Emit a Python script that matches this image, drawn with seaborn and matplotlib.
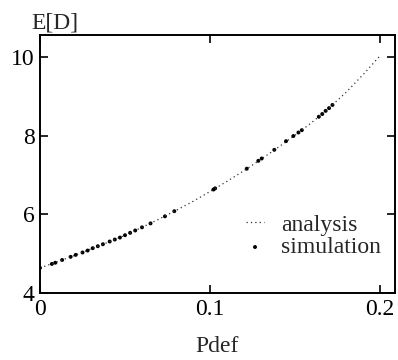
import matplotlib
matplotlib.use("Agg")
import matplotlib.pyplot as plt
import seaborn as sns
import pandas as pd

# analysis curve
pdef_analysis = [0.00, 0.01, 0.02, 0.03, 0.04, 0.05, 0.06, 0.07, 0.08, 0.09, 0.10,
                 0.11, 0.12, 0.13, 0.14, 0.15, 0.16, 0.17, 0.18, 0.19, 0.20]
ed_analysis = [4.64, 4.79, 4.95, 5.12, 5.29, 5.47, 5.67, 5.88, 6.10, 6.33, 6.58,
               6.84, 7.11, 7.40, 7.70, 8.01, 8.34, 8.70, 9.10, 9.55, 10.03]

# simulation points
pdef_sim = [0.0, 0.007, 0.009, 0.013, 0.018, 0.021, 0.025, 0.028, 0.031, 0.034, 0.037,
            0.041, 0.044, 0.047, 0.050, 0.053, 0.056, 0.060, 0.065, 0.0735, 0.079,
            0.102, 0.103, 0.1216, 0.1284, 0.1304, 0.1378, 0.1447, 0.149, 0.152, 0.154,
            0.164, 0.166, 0.168, 0.170, 0.172]
ed_sim = [4.64, 4.74, 4.77, 4.84, 4.92, 4.97, 5.03, 5.08, 5.14, 5.19, 5.24,
          5.31, 5.36, 5.41, 5.47, 5.53, 5.59, 5.67, 5.77, 5.95, 6.08,
          6.63, 6.66, 7.16, 7.36, 7.42, 7.64, 7.86, 7.99, 8.08, 8.14,
          8.48, 8.55, 8.63, 8.70, 8.78]

x_ticks = [0, 0.1, 0.2]
x_ticklabels = ["0", "0.1", "0.2"]
y_ticks = [4, 6, 8, 10]
y_ticklabels = ["4", "6", "8", "10"]

sns.set_theme(style="ticks")
plt.rcParams['font.family'] = ['Liberation Serif', 'DejaVu Serif']

fig = plt.figure(figsize=(3.98, 3.6), dpi=100)
ax = fig.add_axes([0.1005, 0.186, 0.892, 0.717])

df_a = pd.DataFrame({"Pdef": pdef_analysis, "ED": ed_analysis})
df_s = pd.DataFrame({"Pdef": pdef_sim, "ED": ed_sim})

sns.lineplot(data=df_a, x="Pdef", y="ED", ax=ax, color="#333333", lw=0.9,
             linestyle=(0, (1, 2.5)), label="analysis")
sns.scatterplot(data=df_s, x="Pdef", y="ED", ax=ax, color="black", s=8,
                edgecolor="none", label="simulation")

ax.set_xlim(0, 0.2088)
ax.set_ylim(4, 10.56)
ax.set_xticks(x_ticks)
ax.set_xticklabels(x_ticklabels)
ax.set_yticks(y_ticks)
ax.set_yticklabels(y_ticklabels)
ax.tick_params(direction="in", length=6, width=1.2, top=True, right=True,
               labelsize=17, pad=4, colors="black")
for s in ax.spines.values():
    s.set_linewidth(1.4)
    s.set_color("black")
    s.set_visible(True)

ax.set_xlabel("Pdef", fontsize=17, labelpad=12)
ax.set_ylabel("")
fig.text(0.08, 0.935, "E[D]", fontsize=17, ha="left", va="center")

ax.legend(loc="lower right", bbox_to_anchor=(1.0, 0.08), frameon=False,
          fontsize=17, handlelength=0.8, handletextpad=0.7, labelspacing=0.05,
          borderpad=0.1)

fig.savefig("out.png", dpi=100)
